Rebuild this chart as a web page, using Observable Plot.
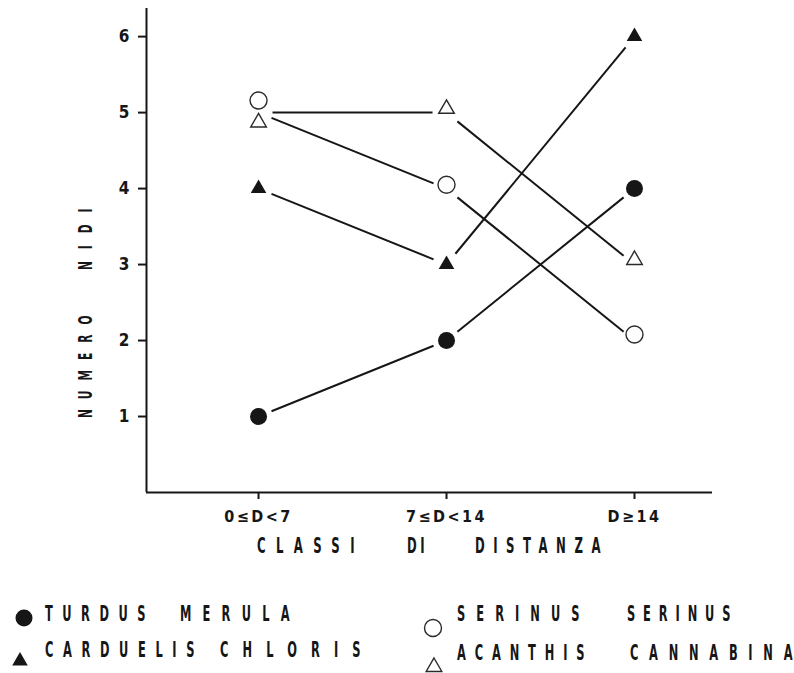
<!DOCTYPE html>
<html>
<head>
<meta charset="utf-8">
<script src="https://cdn.jsdelivr.net/npm/d3@7"></script>
<script src="https://cdn.jsdelivr.net/npm/@observablehq/plot@0.6"></script>
<style>
  body { margin: 0; background: #fff; }
  #wrap { position: relative; width: 794px; height: 673px; overflow: hidden; background: #fff; }
  #plot { position: absolute; left: 0; top: 0; }
  #ov { position: absolute; left: 0; top: 0; }
  #ov text { font-family: "DejaVu Sans Condensed", "DejaVu Sans", sans-serif; fill: #161616; }
  svg g[aria-label="x-axis tick label"] text { letter-spacing: 2.5px; font-weight: bold; }
  svg g[aria-label="y-axis tick label"] text { font-weight: bold; }
</style>
</head>
<body>
<div id="wrap">
  <div id="plot"></div>
</div>
<script>
// ---- data ----
const classes = ["0≤D<7", "7≤D<14", "D≥14"];
const yTicks = [1, 2, 3, 4, 5, 6];
const turdus = [1, 2, 4];        // Turdus merula (filled circle)
const carduelis = [4, 3, 6];     // Carduelis chloris (filled triangle)
const serinus = [5, 4, 2];       // Serinus serinus (open circle)
const acanthis = [5, 5, 3];      // Acanthis cannabina (open triangle)
// marker positions as printed (coincident first points drawn apart)
const serinusMark = [5.16, 4.05, 2.08];
const acanthisMark = [4.87, 5.05, 3.06];
const seriesNames = ["TURDUS MERULA", "CARDUELIS CHLORIS", "SERINUS SERINUS", "ACANTHIS CANNABINA"];
const xTitle = "CLASSI DI DISTANZA";
const yTitle = "NUMERO NIDI";

// ---- layout (pixel spans of the hand-lettered words) ----
const legendLayout = [
  {spans: [[45, 144], [180, 288]], yc: 614},
  {spans: [[45, 193], [220, 359]], yc: 650},
  {spans: [[457, 578], [627, 729]], yc: 614},
  {spans: [[457, 583], [630, 791]], yc: 653}
];
const xTitleLayout = {spans: [[257, 353], [407, 423], [475, 599]], yc: 545};
const yTitleLayout = {spans: [[418, 317], [270, 210]], xc: 85};

// ---- tables built from the arrays ----
const pts = arr => arr.map((v, i) => ({x: i, y: v}));
const segs = arr => arr.slice(1).map((v, i) => ({x1: i, y1: arr[i], x2: i + 1, y2: v}));
const allSegs = [...segs(turdus), ...segs(carduelis), ...segs(serinus), ...segs(acanthis)];

const ink = "#161616";
const xDomain = [-0.596, 2.415];

const chart = Plot.plot({
  width: 794,
  height: 535,
  marginLeft: 146,
  marginRight: 82,
  marginTop: 8,
  marginBottom: 43,
  x: {domain: xDomain},
  y: {domain: [0, 6.37]},
  style: {fontFamily: '"DejaVu Sans Condensed", "DejaVu Sans", sans-serif', color: ink, background: "transparent"},
  marks: [
    Plot.ruleY([0], {stroke: ink, strokeWidth: 2}),
    Plot.ruleX([xDomain[0]], {stroke: ink, strokeWidth: 2}),
    Plot.axisY({ticks: yTicks, tickFormat: d3.format("d"), tickSize: 8, tickPadding: 9, label: null, fontSize: 17, strokeWidth: 2}),
    Plot.axisX({ticks: [0, 1, 2], tickFormat: i => classes[i], tickSize: 7, tickPadding: 11, label: null, fontSize: 16, strokeWidth: 2}),
    Plot.arrow(allSegs, {x1: "x1", y1: "y1", x2: "x2", y2: "y2", stroke: ink, strokeWidth: 2,
                         headLength: 0, insetStart: 14, insetEnd: 14, strokeLinecap: "butt"}),
    Plot.dot(pts(turdus), {x: "x", y: "y", r: 8.5, fill: ink, stroke: "none"}),
    Plot.dot(pts(carduelis), {x: "x", y: "y", symbol: "triangle", r: 5.8, fill: ink, stroke: "none"}),
    Plot.dot(pts(serinusMark), {x: "x", y: "y", r: 8.5, fill: "white", stroke: "#2a2a2a", strokeWidth: 1.4}),
    Plot.dot(pts(acanthisMark), {x: "x", y: "y", symbol: "triangle", r: 5.8, fill: "white", stroke: "#2a2a2a", strokeWidth: 1.4})
  ]
});
document.getElementById("plot").appendChild(chart);

// ---- overlay: axis titles and legend ----
const wrap = document.getElementById("wrap");
const ov = d3.select(wrap).append("svg").attr("id", "ov").attr("width", 794).attr("height", 673);

function word(t, a, b, c, fs, sx, rot) {
  const cap = fs * 0.73;
  const len = Math.abs(b - a) + 1.5;
  const el = ov.append("text").text(t)
    .attr("font-size", fs).attr("font-weight", "bold")
    .attr("textLength", len / sx).attr("lengthAdjust", "spacing");
  if (!rot) el.attr("transform", `translate(${a},${c + cap / 2}) scale(${sx},1)`);
  else el.attr("transform", `translate(${c + cap / 2},${a}) rotate(-90) scale(${sx},1)`);
}

xTitle.split(" ").forEach((w, i) => {
  const [a, b] = xTitleLayout.spans[i];
  word(w, a, b, xTitleLayout.yc, 21, 0.62, false);
});
yTitle.split(" ").forEach((w, i) => {
  const [a, b] = yTitleLayout.spans[i];
  word(w, a, b, yTitleLayout.xc, 19, 0.62, true);
});
seriesNames.forEach((name, k) => {
  const L = legendLayout[k];
  name.split(" ").forEach((w, i) => {
    const [a, b] = L.spans[i];
    word(w, a, b, L.yc, 20.5, 0.62, false);
  });
});

// legend swatches
const tri = d3.symbol(d3.symbolTriangle, Math.PI * 5.8 * 5.8)();
ov.append("circle").attr("cx", 24).attr("cy", 618).attr("r", 8.5).attr("fill", ink);
ov.append("path").attr("d", tri).attr("transform", "translate(20,661)").attr("fill", ink);
ov.append("circle").attr("cx", 433).attr("cy", 628).attr("r", 8.5).attr("fill", "white").attr("stroke", "#2a2a2a").attr("stroke-width", 1.4);
ov.append("path").attr("d", tri).attr("transform", "translate(434,667)").attr("fill", "white").attr("stroke", "#2a2a2a").attr("stroke-width", 1.4);
</script>
</body>
</html>
